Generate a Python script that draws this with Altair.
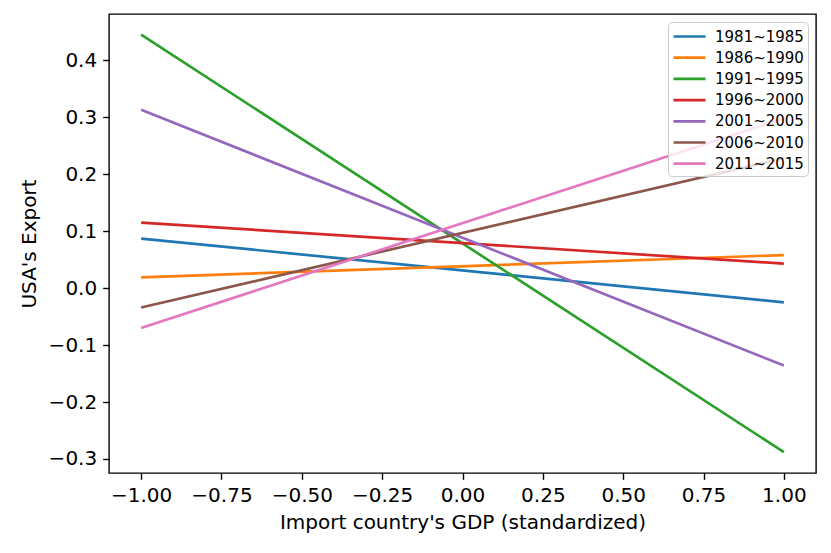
import altair as alt
import pandas as pd

periods = ["1981~1985", "1986~1990", "1991~1995", "1996~2000",
           "2001~2005", "2006~2010", "2011~2015"]
x_points = [-1.0, 1.0]
y_start = [0.087, 0.019, 0.445, 0.115, 0.313, -0.034, -0.070]
y_end = [-0.025, 0.058, -0.288, 0.043, -0.136, 0.228, 0.298]
colors = ["#1f77b4", "#ff7f0e", "#2ca02c", "#d62728",
          "#9467bd", "#8c564b", "#e377c2"]
x_ticks = [-1.0, -0.75, -0.5, -0.25, 0.0, 0.25, 0.5, 0.75, 1.0]
y_ticks = [-0.3, -0.2, -0.1, 0.0, 0.1, 0.2, 0.3, 0.4]

rows = []
for i, p in enumerate(periods):
    rows.append({"period": p, "order": i, "gdp": x_points[0], "export": y_start[i]})
    rows.append({"period": p, "order": i, "gdp": x_points[1], "export": y_end[i]})
df = pd.DataFrame(rows)

FONT = "DejaVu Sans"

chart = alt.Chart(df).mark_line(strokeWidth=2.7).encode(
    x=alt.X("gdp:Q",
            scale=alt.Scale(domain=[-1.1, 1.1], nice=False, zero=False),
            axis=alt.Axis(values=x_ticks, format=".2f",
                          title="Import country's GDP (standardized)",
                          titlePadding=7)),
    y=alt.Y("export:Q",
            scale=alt.Scale(domain=[-0.3246, 0.4812], nice=False, zero=False),
            axis=alt.Axis(values=y_ticks, format=".1f",
                          title="USA's Export", titlePadding=9)),
    color=alt.Color("period:N",
                    scale=alt.Scale(domain=periods, range=colors),
                    legend=alt.Legend(
                        orient="none", legendX=559, legendY=8,
                        title=None,
                        symbolType="M-1,0L2.556,0",
                        symbolSize=324,
                        symbolStrokeWidth=2.7,
                        labelFontSize=15,
                        labelFont=FONT,
                        labelColor="black",
                        labelOffset=22,
                        rowPadding=2.2,
                        padding=4,
                        fillColor="rgba(255,255,255,0.8)",
                        strokeColor="#cccccc",
                        cornerRadius=4,
                    )),
    detail="order:O",
).properties(
    width=707,
    height=459,
    autosize=alt.AutoSizeParams(type="none"),
    padding={"left": 101, "top": 6, "right": 7, "bottom": 72},
).configure_view(
    stroke="black", strokeWidth=1.4
).configure_legend(
    labelFontSize=15,
    labelFont=FONT,
).configure_axis(
    domain=False,
    grid=False,
    ticks=True,
    tickSize=6.3,
    tickWidth=1.4,
    tickColor="black",
    labelPadding=6,
    labelFont=FONT,
    labelFontSize=20,
    labelColor="black",
    titleFont=FONT,
    titleFontSize=20,
    titleFontWeight="normal",
    titleColor="black",
)

chart.save("out.html", embed_options={"renderer": "svg", "actions": False})
